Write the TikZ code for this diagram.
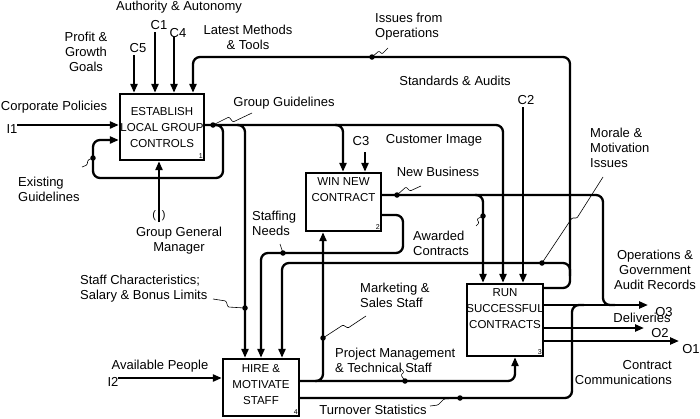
\documentclass[tikz,border=0pt]{standalone}
\usepackage{fontspec}
\setmainfont{Liberation Sans}
\usetikzlibrary{arrows.meta, positioning}

\begin{document}
\begin{tikzpicture}[
    x=1pt, y=-1pt, >={Triangle[length=9pt, width=7pt]},
    every node/.style={inner sep=0pt, font=\fontsize{13}{15}\selectfont},
    func/.style={draw, line width=2.3pt},
    functext/.style={align=center, font=\fontsize{11.5}{16}\selectfont},
    num/.style={font=\fontsize{7}{7}\selectfont},
    flow/.style={->, line width=2.3pt, rounded corners=7pt},
    pipe/.style={line width=2.3pt, rounded corners=7pt},
    dot/.style={circle, fill, minimum size=5.5pt},
    squig/.style={line width=0.6pt, rounded corners=1pt}
]
    \useasboundingbox (0,0) rectangle (700,418);

    % activity boxes
    \node[func, minimum width=84pt, minimum height=66pt] (est) at (162,127) {};
    \node[func, minimum width=75pt, minimum height=58pt] (win) at (343.5,202) {};
    \node[func, minimum width=76pt, minimum height=72pt] (run) at (505,320) {};
    \node[func, minimum width=76pt, minimum height=57pt] (hire) at (261,387.5) {};

    \node[functext, below=14pt of est.north] (t1) {ESTABLISH\\LOCAL GROUP\\CONTROLS};
    \node[functext, below=6pt of win.north] (t2) {WIN NEW\\CONTRACT};
    \node[functext, below=6pt of run.north] (t3) {RUN\\SUCCESSFUL\\CONTRACTS};
    \node[functext, below=6pt of hire.north] (t4) {HIRE \&\\MOTIVATE\\STAFF};
    \node[num, above left=3pt of est.south east] (n1) {1};
    \node[num, above left=3pt of win.south east] (n2) {2};
    \node[num, above left=3pt of run.south east] (n3) {3};
    \node[num, above left=3pt of hire.south east] (n4) {4};

    % inputs
    \coordinate (i1) at (17,125);
    \coordinate (i2) at (118,378);
    \draw[flow] (i1) -- (i1 -| est.west);
    \draw[flow] (i2) -- (i2 -| hire.west);

    % controls
    \coordinate (c5) at (134,55);
    \coordinate (c1) at (155,32);
    \coordinate (c4) at (174,37);
    \coordinate (c3) at (365,152);
    \coordinate (c2) at (523,107);
    \foreach \c in {c5,c1,c4} \draw[flow] (\c) -- (\c |- est.north);
    \draw[flow] (c3) -- (c3 |- win.north);
    \draw[flow] (c2) -- (c2 |- run.north);

    % mechanism
    \coordinate (m1) at (159,222);
    \draw[flow] (m1) -- (m1 |- est.south);
    \node[font=\fontsize{11}{11}\selectfont] (tunnel) at (159,216) {(\hspace{6pt})};

    % group guidelines
    \draw[flow] (est.east |- 0,125) -- (503,125) -- (run.north -| 503,0);
    \draw[flow] (213,125) -- (223,125) -- (223,178) -- (93,178) -- (93,140) -- (est.west |- 0,140);
    \draw[flow] (237,125) -- (245,125) -- (hire.north -| 245,0);
    \draw[flow] (335,125) -- (343,125) -- (win.north -| 343,0);

    % issues and morale fed back
    \draw[flow] (run.east |- 0,288) -- (570,288) -- (570,57) -- (193,57) -- (est.north -| 193,0);
    \draw[flow] (570,276) -- (570,263) -- (282,263) -- (hire.north -| 282,0);

    % new business
    \draw[pipe] (win.east |- 0,195) -- (603,195) -- (603,305) -- (615,305);
    \draw[flow] (475,195) -- (483,195) -- (run.north -| 483,0);

    % staffing needs
    \draw[flow] (win.east |- 0,215) -- (403,215) -- (403,253) -- (261,253) -- (hire.north -| 261,0);

    % staff
    \draw[flow] (hire.east |- 0,381) -- (515,381) -- (run.south -| 515,0);
    \draw[flow] (315,381) -- (323,381) -- (win.south -| 323,0);
    \draw[pipe] (hire.east |- 0,398) -- (572,398) -- (572,305) -- (584,305);

    % outputs
    \coordinate (o3) at (648,305);
    \coordinate (o2) at (644,328);
    \coordinate (o1) at (679,341);
    \foreach \o in {o3,o2,o1} \draw[flow] (run.east |- \o) -- (\o);

    % branch dots
    \foreach \n/\x/\y in {gg/213/125, ex/93/158, sc/245/308, is/372/57, nb/397/195,
                          aw/483/216, sn/283/253, mo/542/263, mk/323/338, pm/405/381, to/460/398}
        \node[dot] (d\n) at (\x,\y) {};

    % labels
    \node (lauth) at (179,7) {Authority \& Autonomy};
    \node (lc1) at (159,25) {C1};
    \node (lc4) at (178,33) {C4};
    \node (lc5) at (138,48) {C5};
    \node[align=center] (lprofit) at (86,52) {Profit \&\\Growth\\Goals};
    \node[align=center] (lmeth) at (248,37) {Latest Methods\\\& Tools};
    \node (lcorp) at (54,107) {Corporate Policies};
    \node (li1) at (12,129) {I1};
    \node (lgg) at (284,103) {Group Guidelines};
    \node[align=left, anchor=west] (lex) at (18,189) {Existing\\Guidelines};
    \node[align=center] (lggm) at (179,241) {Group General\\Manager};
    \node[align=left, anchor=west] (lis) at (375,27) {Issues from\\Operations};
    \node (lstd) at (455,81) {Standards \& Audits};
    \node (lc2) at (526,100) {C2};
    \node (lc3) at (361,141) {C3};
    \node (lcust) at (434,140) {Customer Image};
    \node (lnb) at (438,172) {New Business};
    \node[align=left, anchor=west] (lmo) at (590,148) {Morale \&\\Motivation\\Issues};
    \node[align=left, anchor=west] (lsn) at (252,223) {Staffing\\Needs};
    \node[align=left, anchor=west] (law) at (413,243) {Awarded\\Contracts};
    \node[align=left, anchor=west] (lsc) at (80,289) {Staff Characteristics;\\Salary \& Bonus Limits};
    \node[align=left, anchor=west] (lmk) at (360,295) {Marketing \&\\Sales Staff};
    \node[align=left, anchor=west] (lpm) at (335,360) {Project Management\\\& Technical Staff};
    \node (lto) at (373,410) {Turnover Statistics};
    \node (lavail) at (160,366) {Available People};
    \node (li2) at (113,382) {I2};
    \node[align=center] (lops) at (655,270) {Operations \&\\Government\\Audit Records};
    \node (lo3) at (664,312) {O3};
    \node (ldel) at (642,318) {Deliveries};
    \node (lo2) at (660,333) {O2};
    \node (lo1) at (691,349) {O1};
    \node[align=right, anchor=east] (lcc) at (672,373) {Contract\\Communications};

    % squiggles
    \draw[squig] (dgg.center) -- (229,117) -- (233,122) -- (252,113);
    \draw[squig] (dex.center) -- (88,160) -- (87,165) -- (82,167);
    \draw[squig] (dis.center) -- (379,51) -- (382,54) -- (388,48);
    \draw[squig] (dnb.center) -- (406,187) -- (410,191) -- (421,186);
    \draw[squig] (daw.center) -- (477,219) -- (479,223) -- (476,226);
    \draw[squig] (dsn.center) -- (280,244);
    \draw[squig] (dmo.center) -- (572,218) -- (577,218) -- (603,177);
    \draw[squig] (213,299) -- (226,301) -- (228,307) -- (dsc.center);
    \draw[squig] (dmk.center) -- (343,325) -- (348,328) -- (366,316);
    \draw[squig] (dpm.center) -- (401,375) -- (404,372) -- (400,368);
    \draw[squig] (dto.center) -- (444,399) -- (438,405) -- (430,406);
\end{tikzpicture}
\end{document}
